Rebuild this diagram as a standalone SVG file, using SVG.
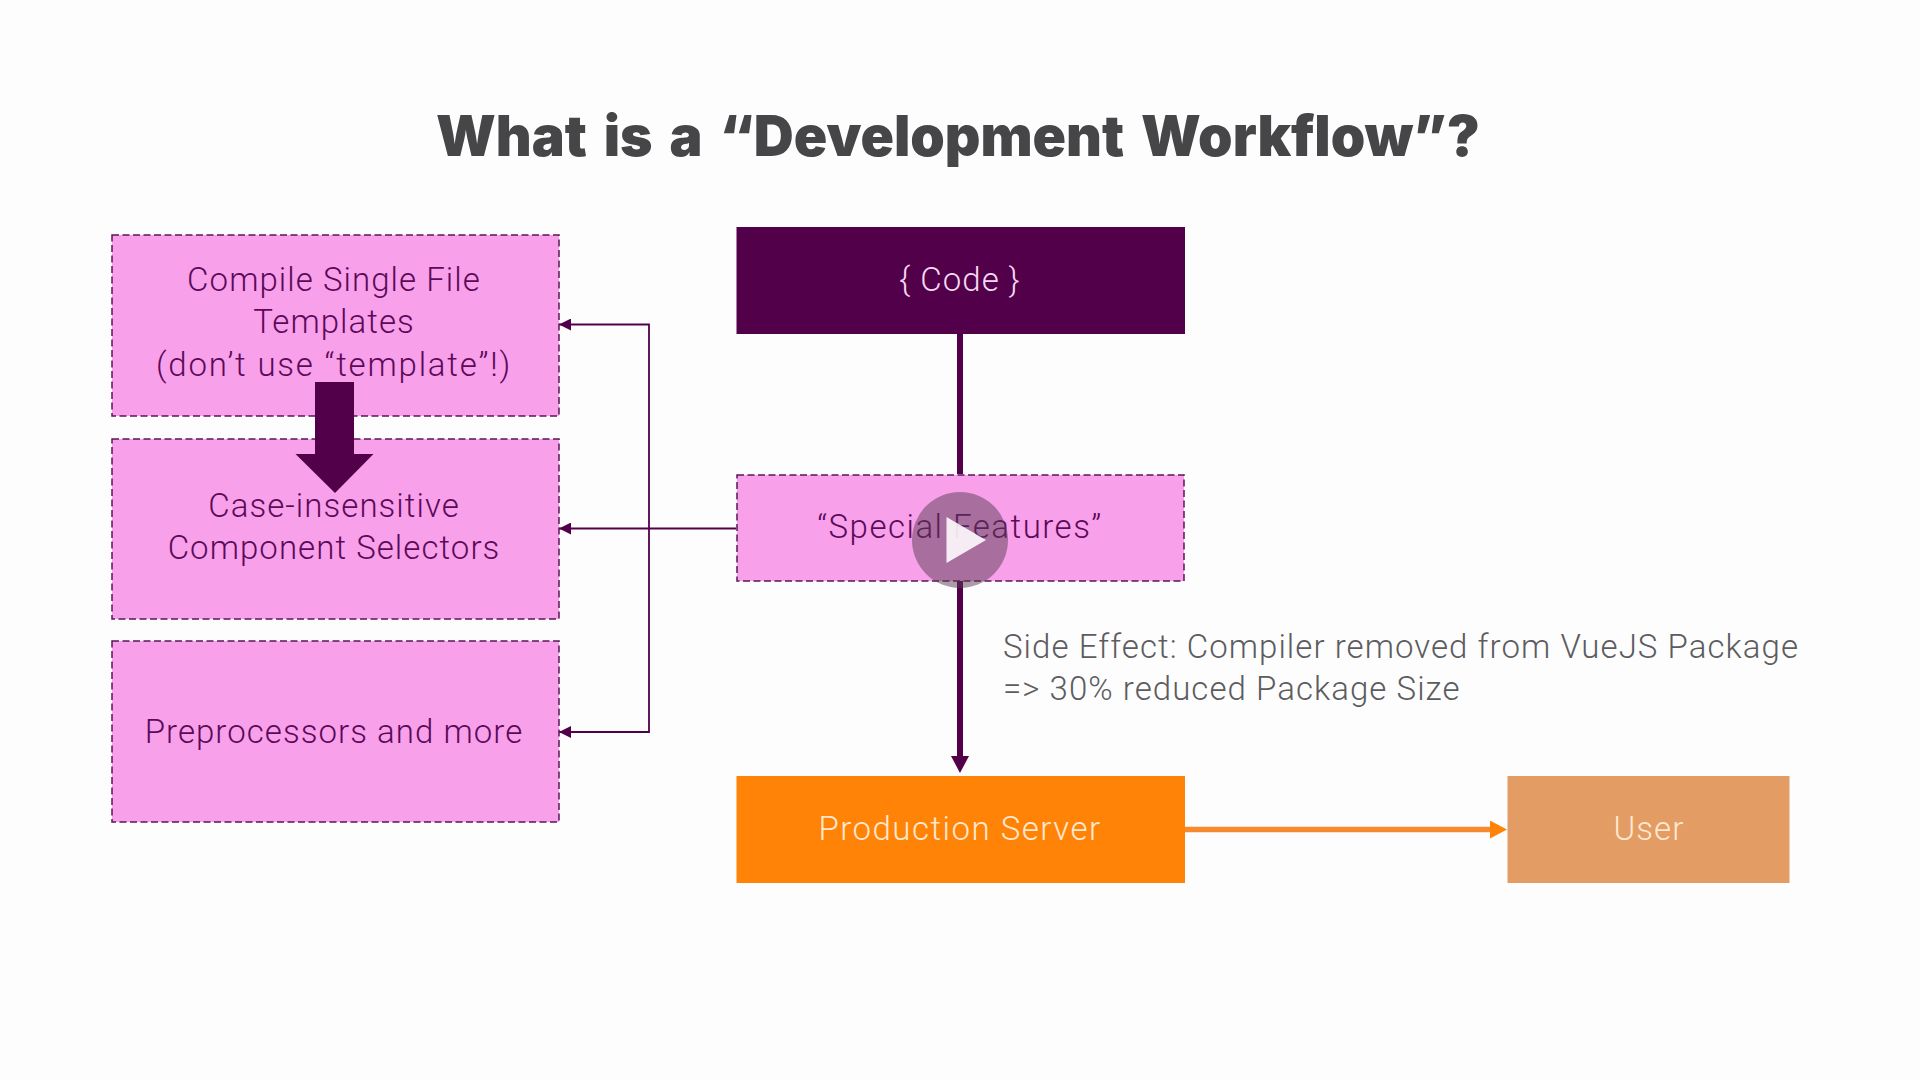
<svg xmlns="http://www.w3.org/2000/svg" width="1920" height="1080" viewBox="0 0 1920 1080">
<style>
.t{font-family:Roboto,"Liberation Sans",sans-serif;font-weight:300;font-size:33px;letter-spacing:1.05px;text-anchor:middle}
.pk{fill:#f9a0ea;stroke:#5b1458;stroke-width:1.5;stroke-dasharray:7 3.500}
.dk{fill:#5b0a5a}
.lt{fill:#ffe8cf}
.thin{fill:none;stroke:#52004a;stroke-width:1.800}
.thick{fill:none;stroke:#52004a;stroke-width:6}
</style>
<defs>
<marker id="small" markerUnits="userSpaceOnUse" markerWidth="12" markerHeight="12" refX="12" refY="6" orient="auto"><path d="M0 0L12 6L0 12Z" fill="#52004a"/></marker>
<marker id="mid" markerUnits="userSpaceOnUse" markerWidth="18" markerHeight="18" refX="1" refY="9" orient="auto"><path d="M0 0L17 9L0 18Z" fill="#52004a"/></marker>
<marker id="org" markerUnits="userSpaceOnUse" markerWidth="18" markerHeight="18" refX="1" refY="9" orient="auto"><path d="M0 0L17 9L0 18Z" fill="#ff8307"/></marker>
</defs>
<rect width="1920" height="1080" fill="#fefdfe"/>
<text id="title" x="958" y="156" font-family="Inter,Lato,sans-serif" font-weight="900" font-size="56" fill="#464547" text-anchor="middle" word-spacing="6" textLength="1044" lengthAdjust="spacingAndGlyphs">What is a “Development Workflow”?</text>
<g id="connectors">
<path class="thick" d="M960 334V474"/>
<path class="thick" d="M960 581V757" marker-end="url(#mid)"/>
<path class="thin" d="M736 528.500H559" marker-end="url(#small)"/>
<path class="thin" d="M649 528.500V324.500H559" marker-end="url(#small)"/>
<path class="thin" d="M649 528.500V732H559" marker-end="url(#small)"/>
<path d="M1185 829.500H1491" fill="none" stroke="#f58a2e" stroke-width="5.500" marker-end="url(#org)"/>
</g>
<g id="node-compile">
<rect class="pk" x="112" y="235" width="447" height="181"/>
<text class="t dk" x="334" y="291">Compile Single File</text>
<text class="t dk" x="334" y="333">Templates</text>
<text class="t dk" x="334" y="376" style="letter-spacing:1.800px">(don’t use “template”!)</text>
</g>
<g id="node-case">
<rect class="pk" x="112" y="439" width="447" height="180"/>
<text class="t dk" x="334" y="517">Case-insensitive</text>
<text class="t dk" x="334" y="559">Component Selectors</text>
</g>
<g id="node-preprocessors">
<rect class="pk" x="112" y="641" width="447" height="181"/>
<text class="t dk" x="334" y="743">Preprocessors and more</text>
</g>
<g id="node-code">
<rect x="736.500" y="227" width="448.500" height="107" fill="#52004a"/>
<text class="t" x="960" y="291" fill="#f6d9f2">{ Code }</text>
</g>
<g id="node-special">
<rect class="pk" x="737" y="475" width="447" height="106"/>
<text class="t dk" x="960" y="538" style="letter-spacing:1.500px">“Special Features”</text>
</g>
<g id="node-production">
<rect x="736.500" y="776" width="448.500" height="107" fill="#ff8307"/>
<text class="t lt" x="960" y="840" style="letter-spacing:1.500px">Production Server</text>
</g>
<g id="node-user">
<rect x="1507.500" y="776" width="282" height="107" fill="#e29c64"/>
<text class="t lt" x="1649" y="840">User</text>
</g>
<g id="note">
<text class="t" x="1003" y="658" fill="#5c5c5e" style="text-anchor:start">Side Effect: Compiler removed from VueJS Package</text>
<text class="t" x="1003" y="700" fill="#5c5c5e" style="text-anchor:start">=&gt; 30% reduced Package Size</text>
</g>
<path id="big-arrow" d="M315 382H354V454H373.500L335 493L295.500 454H315Z" fill="#52004a"/>
<g id="play">
<circle cx="960" cy="540" r="48" fill="#573c52" fill-opacity=".5"/>
<path d="M946.500 517L986 540L946.500 563Z" fill="#fff" fill-opacity=".88"/>
</g>
</svg>
